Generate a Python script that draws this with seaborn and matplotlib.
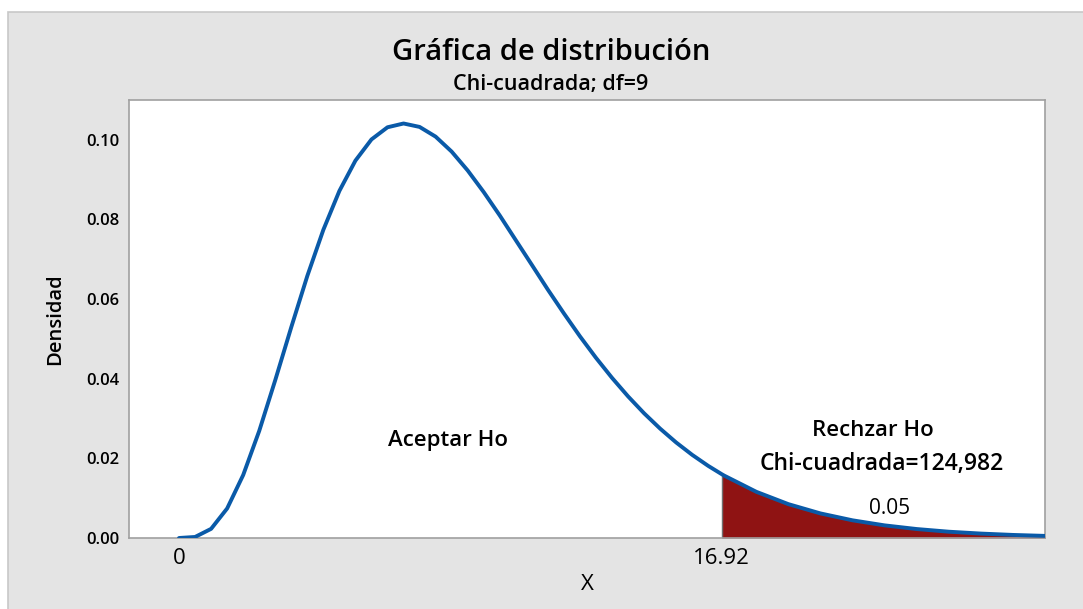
import matplotlib
matplotlib.use("Agg")
import matplotlib.pyplot as plt
from matplotlib.patches import Rectangle
import seaborn as sns
import numpy as np
import pandas as pd

# ---- data ----
x_vals = [0, 0.5, 1, 1.5, 2, 2.5, 3, 3.5, 4, 4.5, 5, 5.5, 6, 6.5, 7, 7.5, 8, 8.5,
          9, 9.5, 10, 10.5, 11, 11.5, 12, 12.5, 13, 13.5, 14, 14.5, 15, 15.5, 16,
          16.5, 16.92, 17, 18, 19, 20, 21, 22, 23, 24, 25, 26, 27]
density = [0, 0.00026, 0.00230, 0.00742, 0.01581, 0.02689, 0.03965, 0.05296,
           0.06582, 0.07741, 0.08717, 0.09478, 0.10010, 0.10315, 0.10410, 0.10324,
           0.10080, 0.09704, 0.09230, 0.08687, 0.08100, 0.07479, 0.06860, 0.06237,
           0.05640, 0.05065, 0.04525, 0.04022, 0.03557, 0.03132, 0.02747, 0.02399,
           0.02088, 0.01811, 0.01603, 0.01566, 0.01160, 0.00850, 0.00617, 0.00444,
           0.00317, 0.00225, 0.00158, 0.00111, 0.00077, 0.00053]
critical = 16.92
x_ticks = [0, 16.92]
x_tick_labels = ["0", "16.92"]
y_ticks = [0.00, 0.02, 0.04, 0.06, 0.08, 0.10]
y_tick_labels = ["0.00", "0.02", "0.04", "0.06", "0.08", "0.10"]
title = "Gráfica de distribución"
subtitle = "Chi-cuadrada; df=9"
accept_label = "Aceptar Ho"
reject_label = "Rechzar Ho"
stat_label = "Chi-cuadrada=124,982"
alpha_label = "0.05"

df = pd.DataFrame({"X": x_vals, "Densidad": density})

sns.set_theme(style="white")
plt.rcParams["font.family"] = ["Open Sans", "DejaVu Sans"]
plt.rcParams["text.color"] = "black"

W, H = 1083, 609
fig = plt.figure(figsize=(W / 100, H / 100), dpi=100)
fig.patch.set_facecolor("white")
# grey panel
bg = Rectangle((8 / W, -0.01), 1 - 8 / W + 0.01, 1 - 12 / H + 0.01,
               transform=fig.transFigure, facecolor="#e4e4e4",
               edgecolor="#c8c8c8", linewidth=1.2, zorder=-10)
fig.patches.append(bg)

ax = fig.add_axes([129 / W, 1 - 538 / H, (1045 - 129) / W, (538 - 100) / H])
ax.set_zorder(1)
ax.set_facecolor("white")

tail = df[df["X"] >= critical]
ax.fill_between(tail["X"], 0, tail["Densidad"], color="#8f1313", linewidth=0, zorder=2)
ax.vlines(critical, 0, tail["Densidad"].iloc[0], color="#707070", linewidth=1, zorder=2)

sns.lineplot(data=df, x="X", y="Densidad", ax=ax, color="#0a5aa8", linewidth=2.8,
             zorder=3)

ax.set_xlim(-1.56, 27.0)
ax.set_ylim(0, 0.110)
ax.set_xticks(x_ticks)
ax.set_xticklabels(x_tick_labels, fontsize=16)
ax.set_yticks(y_ticks)
ax.set_yticklabels(y_tick_labels, fontsize=12, fontweight="semibold")
ax.tick_params(axis="both", direction="out", length=4, width=1, color="#a0a0a0",
               pad=3, labelcolor="black")
ax.tick_params(axis="x", length=0, pad=7)
for s in ax.spines.values():
    s.set_color("#a0a0a0")
    s.set_linewidth(1.2)

ax.set_xlabel("X", fontsize=16, labelpad=4, color="black")
ax.set_ylabel("Densidad", fontsize=14.5, labelpad=15, fontweight="semibold",
              color="black")

fig.text(551 / W, 1 - 52 / H, title, ha="center", va="center", fontsize=21,
         fontweight="semibold")
fig.text(551 / W, 1 - 84 / H, subtitle, ha="center", va="center", fontsize=15.5,
         fontweight="semibold")

ax.text(8.38, 0.0246, accept_label, ha="center", va="center", fontsize=16,
        fontweight="semibold")
ax.text(21.63, 0.0269, reject_label, ha="center", va="center", fontsize=16,
        fontweight="semibold")
ax.text(21.9, 0.0186, stat_label, ha="center", va="center", fontsize=16.5,
        fontweight="semibold")
ax.text(22.16, 0.0075, alpha_label, ha="center", va="center", fontsize=15)

fig.savefig("out.png", dpi=100)
